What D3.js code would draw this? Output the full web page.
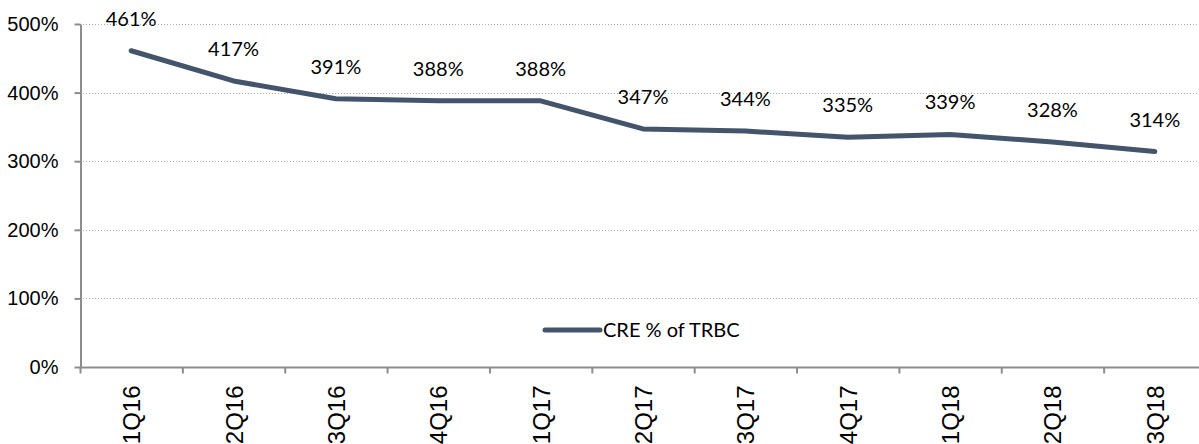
<!DOCTYPE html>
<html>
<head>
<meta charset="utf-8">
<script src="https://cdn.jsdelivr.net/npm/d3@7"></script>
<style>
  body { margin: 0; background: white; }
</style>
</head>
<body>
<div id="chart"></div>
<script>
var quarters = ['1Q16', '2Q16', '3Q16', '4Q16', '1Q17', '2Q17', '3Q17', '4Q17', '1Q18', '2Q18', '3Q18'];
var cre_pct = [461, 417, 391, 388, 388, 347, 344, 335, 339, 328, 314];
var y_ticks = [0, 100, 200, 300, 400, 500];

var width = 1199, height = 444;
var margin = {left: 80, top: 24, bottom: 77};
var plot_right = 1206;

var line_color = '#44546a';
var axis_color = '#8c8c8c';
var label_font = 'Lato, "Open Sans", sans-serif';
var axis_font = '"Liberation Sans", Arial, sans-serif';

var svg = d3.select('#chart')
  .append('svg')
  .attr('width', width)
  .attr('height', height);

var x = d3.scaleBand()
  .domain(quarters)
  .range([margin.left, plot_right]);

var y = d3.scaleLinear()
  .domain([0, 500])
  .range([height - margin.bottom, margin.top]);

// gridlines
svg.append('g')
  .selectAll('line')
  .data(y_ticks.filter(function(d){ return d > 0; }))
  .enter()
  .append('line')
  .attr('x1', margin.left)
  .attr('x2', width)
  .attr('y1', function(d){ return Math.round(y(d)) + 0.5; })
  .attr('y2', function(d){ return Math.round(y(d)) + 0.5; })
  .style('stroke', '#b0b0b0')
  .style('stroke-width', 1)
  .style('stroke-dasharray', '1,2');

// y axis
var y_axis = svg.append('g')
  .attr('transform', 'translate(' + (margin.left + 0.5) + ',0)')
  .call(d3.axisLeft(y).tickValues(y_ticks).tickSize(6).tickSizeOuter(0)
    .tickFormat(function(d){ return d + '%'; }));

y_axis.selectAll('line, path').style('stroke', axis_color).style('stroke-width', 2);
y_axis.selectAll('text')
  .style('font-family', axis_font)
  .style('font-size', '20px')
  .style('fill', '#000')
  .attr('x', -22);

// x axis
var x_base = Math.round(y(0)) + 0.5;
var x_axis = svg.append('g')
  .attr('transform', 'translate(0,' + x_base + ')');

x_axis.append('line')
  .attr('x1', margin.left)
  .attr('x2', width)
  .style('stroke', axis_color)
  .style('stroke-width', 2);

x_axis.selectAll('.tick-mark')
  .data(quarters)
  .enter()
  .append('line')
  .attr('x1', function(d){ return x(d) + 0.5; })
  .attr('x2', function(d){ return x(d) + 0.5; })
  .attr('y1', 0)
  .attr('y2', 6)
  .style('stroke', axis_color)
  .style('stroke-width', 2);

x_axis.selectAll('text')
  .data(quarters)
  .enter()
  .append('text')
  .text(function(d){ return d; })
  .attr('transform', function(d){
    return 'translate(' + (x(d) + x.bandwidth() / 2 + 9) + ',' + 18 + ') rotate(-90)';
  })
  .style('text-anchor', 'end')
  .style('font-family', axis_font)
  .style('font-size', '24px')
  .style('fill', '#000');

// the line
var line = d3.line()
  .x(function(d, i){ return x(quarters[i]) + x.bandwidth() / 2; })
  .y(function(d){ return y(d); });

svg.append('path')
  .datum(cre_pct)
  .attr('d', line)
  .style('fill', 'none')
  .style('stroke', line_color)
  .style('stroke-width', 5)
  .style('stroke-linecap', 'round')
  .style('stroke-linejoin', 'round');

// data labels
svg.append('g')
  .selectAll('text')
  .data(cre_pct)
  .enter()
  .append('text')
  .text(function(d){ return d + '%'; })
  .attr('x', function(d, i){ return x(quarters[i]) + x.bandwidth() / 2; })
  .attr('y', function(d){ return y(d) - 25; })
  .style('text-anchor', 'middle')
  .style('font-family', label_font)
  .style('font-size', '20px')
  .style('fill', '#000');

// legend
var legend = svg.append('g').attr('transform', 'translate(545,330)');
legend.append('line')
  .attr('x1', 0)
  .attr('x2', 55)
  .style('stroke', line_color)
  .style('stroke-width', 5)
  .style('stroke-linecap', 'round');
legend.append('text')
  .text('CRE % of TRBC')
  .attr('x', 58)
  .attr('y', 7)
  .style('font-family', label_font)
  .style('font-size', '20px')
  .style('fill', '#000');
</script>
</body>
</html>
